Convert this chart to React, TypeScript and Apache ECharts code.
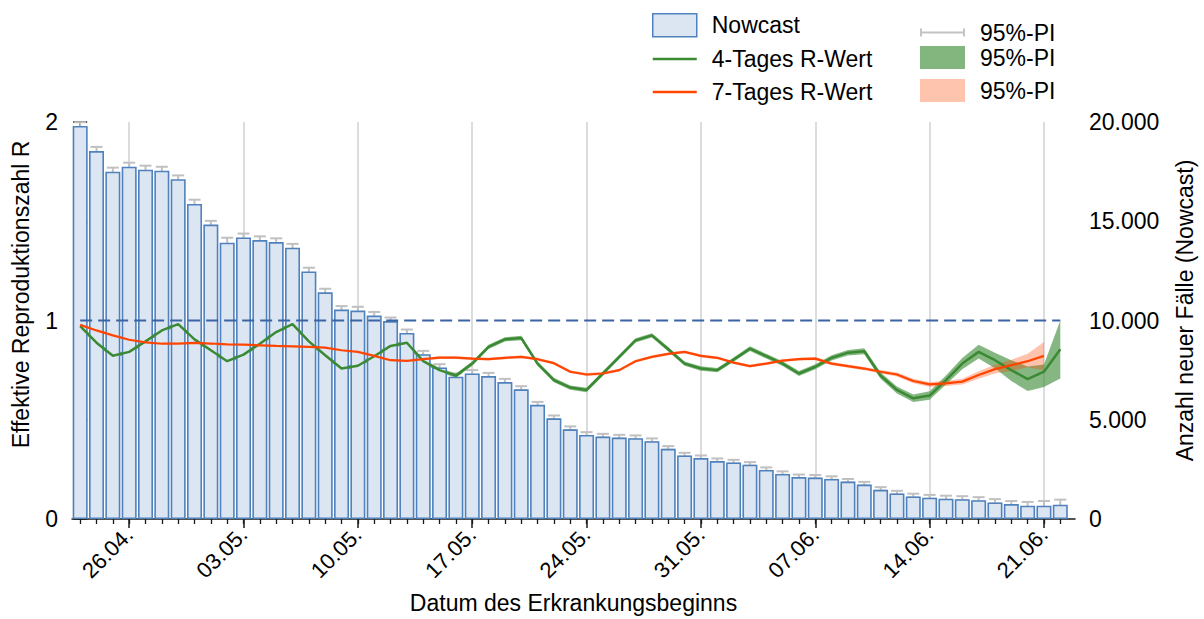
import React, { useEffect, useRef } from "react";
import * as echarts from "echarts";

// Day index 0 = 23.04., index 60 = 22.06.
const dayIndex = Array.from({ length: 61 }, (_, i) => i);
const tickPositions = [3, 10, 17, 24, 31, 38, 45, 52, 59];
const tickLabels = ["26.04.", "03.05.", "10.05.", "17.05.", "24.05.", "31.05.", "07.06.", "14.06.", "21.06."];

const nowcast = [
  19800, 18535, 17500, 17750, 17600, 17550, 17120, 15870, 14835, 13920,
  14185, 14050, 13950, 13670, 12470, 11420, 10550, 10500, 10250, 9970,
  9370, 8300, 7635, 7170, 7335, 7200, 6900, 6535, 5750, 5070,
  4520, 4235, 4150, 4100, 4070, 3920, 3535, 3200, 3070, 2920,
  2850, 2735, 2470, 2270, 2110, 2085, 2020, 1885, 1735, 1470,
  1285, 1135, 1070, 1020, 1000, 950, 835, 750, 670, 670, 720,
];
const nowcastLow = [
  19640, 18385, 17340, 17590, 17450, 17400, 16970, 15745, 14700, 13820,
  14060, 13925, 13830, 13550, 12360, 11320, 10460, 10410, 10160, 9880,
  9290, 8225, 7565, 7100, 7265, 7135, 6835, 6475, 5690, 5015,
  4470, 4185, 4100, 4050, 4020, 3870, 3490, 3155, 3025, 2875,
  2805, 2690, 2425, 2225, 2065, 2040, 1975, 1840, 1690, 1425,
  1240, 1090, 1020, 965, 945, 885, 780, 640, 585, 570, 540,
];
const nowcastHigh = [
  19990, 18745, 17700, 17950, 17800, 17745, 17310, 16085, 15020, 14170,
  14380, 14240, 14140, 13860, 12660, 11600, 10725, 10690, 10430, 10150,
  9545, 8470, 7800, 7330, 7500, 7360, 7060, 6690, 5900, 5215,
  4665, 4375, 4290, 4240, 4210, 4060, 3670, 3335, 3200, 3050,
  2980, 2865, 2600, 2400, 2240, 2215, 2150, 2015, 1870, 1605,
  1420, 1275, 1215, 1175, 1150, 1100, 1000, 905, 860, 905, 975,
];

const r4 = [
  0.972, 0.888, 0.822, 0.842, 0.895, 0.95, 0.982, 0.905, 0.85, 0.795,
  0.828, 0.883, 0.942, 0.982, 0.895, 0.825, 0.758, 0.772, 0.82, 0.872,
  0.888, 0.795, 0.75, 0.722, 0.783, 0.867, 0.905, 0.912, 0.783, 0.7,
  0.662, 0.65, 0.733, 0.817, 0.9, 0.925, 0.855, 0.783, 0.758, 0.75,
  0.803, 0.858, 0.82, 0.783, 0.733, 0.767, 0.812, 0.838, 0.845, 0.722,
  0.65, 0.608, 0.622, 0.7, 0.783, 0.842, 0.8, 0.75, 0.705, 0.742, 0.855,
];
const r4Low = [
  0.96, 0.877, 0.811, 0.831, 0.884, 0.939, 0.971, 0.894, 0.839, 0.784,
  0.817, 0.872, 0.931, 0.971, 0.884, 0.814, 0.747, 0.761, 0.809, 0.861,
  0.877, 0.784, 0.739, 0.711, 0.772, 0.856, 0.894, 0.901, 0.772, 0.689,
  0.651, 0.639, 0.722, 0.806, 0.889, 0.914, 0.844, 0.772, 0.747, 0.739,
  0.792, 0.846, 0.808, 0.771, 0.721, 0.754, 0.799, 0.824, 0.83, 0.706,
  0.632, 0.589, 0.601, 0.677, 0.755, 0.808, 0.76, 0.695, 0.645, 0.665, 0.708,
];
const r4High = [
  0.984, 0.899, 0.833, 0.853, 0.906, 0.961, 0.993, 0.916, 0.861, 0.806,
  0.839, 0.894, 0.953, 0.993, 0.906, 0.836, 0.769, 0.783, 0.831, 0.883,
  0.899, 0.806, 0.761, 0.733, 0.794, 0.878, 0.916, 0.923, 0.794, 0.711,
  0.673, 0.661, 0.744, 0.828, 0.911, 0.936, 0.866, 0.794, 0.769, 0.761,
  0.814, 0.87, 0.832, 0.795, 0.745, 0.78, 0.825, 0.852, 0.86, 0.738,
  0.668, 0.627, 0.643, 0.723, 0.811, 0.878, 0.838, 0.8, 0.768, 0.778, 1.0,
];

const r7 = [
  0.978, 0.95, 0.925, 0.903, 0.89, 0.883, 0.884, 0.887, 0.884, 0.88,
  0.878, 0.875, 0.872, 0.87, 0.867, 0.863, 0.85, 0.842, 0.822, 0.8,
  0.797, 0.805, 0.813, 0.813, 0.808, 0.805, 0.812, 0.817, 0.805, 0.785,
  0.742, 0.728, 0.733, 0.75, 0.795, 0.817, 0.832, 0.842, 0.822, 0.812,
  0.788, 0.77, 0.783, 0.798, 0.805, 0.808, 0.783, 0.77, 0.758, 0.742,
  0.728, 0.695, 0.678, 0.683, 0.692, 0.725, 0.755, 0.775, 0.795, 0.822,
];
const r7Low = [
  0.971, 0.943, 0.918, 0.896, 0.883, 0.876, 0.877, 0.88, 0.877, 0.873,
  0.871, 0.868, 0.865, 0.863, 0.86, 0.856, 0.843, 0.835, 0.815, 0.793,
  0.79, 0.798, 0.806, 0.806, 0.801, 0.798, 0.805, 0.81, 0.798, 0.778,
  0.735, 0.721, 0.726, 0.743, 0.788, 0.81, 0.825, 0.835, 0.815, 0.805,
  0.781, 0.763, 0.776, 0.791, 0.798, 0.8, 0.775, 0.762, 0.75, 0.733,
  0.718, 0.684, 0.666, 0.67, 0.678, 0.706, 0.733, 0.745, 0.765, 0.75,
];
const r7High = [
  0.985, 0.957, 0.932, 0.91, 0.897, 0.89, 0.891, 0.894, 0.891, 0.887,
  0.885, 0.882, 0.879, 0.877, 0.874, 0.87, 0.857, 0.849, 0.829, 0.807,
  0.804, 0.812, 0.82, 0.82, 0.815, 0.812, 0.819, 0.824, 0.812, 0.792,
  0.749, 0.735, 0.74, 0.757, 0.802, 0.824, 0.839, 0.849, 0.829, 0.819,
  0.795, 0.777, 0.79, 0.805, 0.812, 0.816, 0.791, 0.778, 0.766, 0.751,
  0.738, 0.706, 0.69, 0.696, 0.706, 0.744, 0.777, 0.802, 0.832, 0.892,
];

const referenceR = [
  [0, 1],
  [60, 1],
];

const FONT = "'Liberation Sans', Arial, Helvetica, sans-serif";
const AXIS_COLOR = "#1a1a1a";
const GREEN = "#3a8a33";
const ORANGE = "#ff4500";

function fmtThousands(v: number): string {
  return String(v).replace(/\B(?=(\d{3})+(?!\d))/g, ".");
}

function bandSeries(name: string, lo: number[], hi: number[], fill: string) {
  return {
    name,
    type: "custom",
    xAxisIndex: 0,
    yAxisIndex: 0,
    silent: true,
    encode: { x: 0, y: [1, 2] },
    data: lo.map((v, i) => [dayIndex[i], v, hi[i]]),
    renderItem: (params: any, api: any) => {
      if (params.dataIndex !== 0) return null;
      const upper = lo.map((_, i) => api.coord([dayIndex[i], hi[i]]));
      const lower = lo.map((_, i) => api.coord([dayIndex[i], lo[i]])).reverse();
      return {
        type: "polygon",
        shape: { points: upper.concat(lower) },
        style: { fill, stroke: "none" },
      };
    },
  };
}

const legendText = { fontSize: 23, color: "#000", fontFamily: FONT, padding: [0, 0, 0, 10], lineHeight: 23 };

export default function App() {
  const ref = useRef<HTMLDivElement>(null);

  useEffect(() => {
    if (!ref.current) return;
    const chart = echarts.init(ref.current, undefined, { renderer: "svg" });

    const option: any = {
      animation: false,
      textStyle: { fontFamily: FONT, color: "#000" },
      grid: { left: 72, right: 127, top: 122, bottom: 97, containLabel: false },
      legend: [
        {
          orient: "vertical",
          left: 652,
          top: 13,
          padding: 0,
          itemWidth: 44,
          itemHeight: 23,
          itemGap: 10,
          selectedMode: false,
          textStyle: legendText,
          data: [
            { name: "Nowcast", icon: "rect", itemStyle: { color: "#dce6f2", borderColor: "#4f81bd", borderWidth: 1.5 } },
            { name: "4-Tages R-Wert", icon: "path://M0,0H44V2.5H0Z", itemStyle: { color: GREEN, borderWidth: 0 } },
            { name: "7-Tages R-Wert", icon: "path://M0,0H44V2.5H0Z", itemStyle: { color: ORANGE, borderWidth: 0 } },
          ],
        },
        {
          orient: "vertical",
          left: 920,
          top: 21,
          padding: 0,
          itemWidth: 45,
          itemHeight: 8,
          selectedMode: false,
          formatter: () => "95%-PI",
          textStyle: legendText,
          data: [
            {
              name: "pi_err",
              icon: "path://M0,0H2V8H0Z M2,3H43V5H2Z M43,0H45V8H43Z",
              itemStyle: { color: "#c4c4c4", borderWidth: 0 },
            },
          ],
        },
        {
          orient: "vertical",
          left: 920,
          top: 46,
          padding: 0,
          itemWidth: 45,
          itemHeight: 23,
          itemGap: 10,
          selectedMode: false,
          formatter: () => "95%-PI",
          textStyle: legendText,
          data: [
            { name: "pi_4", icon: "rect", itemStyle: { color: "#83b57f", borderWidth: 0, opacity: 1 } },
            { name: "pi_7", icon: "rect", itemStyle: { color: "#ffc4ad", borderWidth: 0, opacity: 1 } },
          ],
        },
      ],
      xAxis: [
        {
          type: "value",
          min: -0.5,
          max: 60.9,
          position: "bottom",
          name: "Datum des Erkrankungsbeginns",
          nameLocation: "middle",
          nameGap: 72,
          nameTextStyle: { fontSize: 23, color: "#000", fontFamily: FONT },
          axisLine: { show: true, lineStyle: { color: AXIS_COLOR, width: 1.5 } },
          axisTick: { show: true, customValues: dayIndex, length: 5, lineStyle: { color: AXIS_COLOR, width: 1.3 } },
          axisLabel: { show: false },
          splitLine: { show: false },
        },
        {
          type: "value",
          min: -0.5,
          max: 60.9,
          position: "bottom",
          axisLine: { show: false },
          axisTick: { show: true, customValues: tickPositions, length: 9, lineStyle: { color: AXIS_COLOR, width: 1.5 } },
          axisLabel: {
            show: true,
            customValues: tickPositions,
            formatter: (v: number) => tickLabels[tickPositions.indexOf(Math.round(v))] || "",
            rotate: 45,
            margin: 12,
            fontSize: 22,
            color: "#000",
            fontFamily: FONT,
          },
          splitLine: { show: true, lineStyle: { color: "#dcdcdc", width: 2 } },
        },
      ],
      yAxis: [
        {
          type: "value",
          position: "left",
          min: 0,
          max: 2,
          interval: 1,
          name: "Effektive Reproduktionszahl R",
          nameLocation: "middle",
          nameRotate: 90,
          nameGap: 40,
          nameTextStyle: { fontSize: 23, color: "#000", fontFamily: FONT, padding: [0, 0, 0, 52] },
          axisLine: { show: true, lineStyle: { color: AXIS_COLOR, width: 1.5 } },
          axisTick: { show: true, length: 7, lineStyle: { color: AXIS_COLOR, width: 1.5 } },
          axisLabel: { fontSize: 23, color: "#000", margin: 14, fontFamily: FONT },
          splitLine: { show: false },
        },
        {
          type: "value",
          position: "right",
          min: 0,
          max: 20000,
          interval: 5000,
          name: "Anzahl neuer Fälle (Nowcast)",
          nameLocation: "middle",
          nameRotate: 90,
          nameGap: 98,
          nameTextStyle: { fontSize: 23, color: "#000", fontFamily: FONT, padding: [0, 0, 0, 20] },
          axisLine: { show: true, lineStyle: { color: AXIS_COLOR, width: 1.5 } },
          axisTick: { show: true, length: 7, lineStyle: { color: AXIS_COLOR, width: 1.5 } },
          axisLabel: { fontSize: 23, color: "#000", margin: 14, fontFamily: FONT, formatter: (v: number) => fmtThousands(v) },
          splitLine: { show: false },
        },
      ],
      series: [
        {
          name: "Nowcast",
          type: "bar",
          xAxisIndex: 0,
          yAxisIndex: 1,
          barWidth: 15,
          data: nowcast.map((v, i) => [dayIndex[i], v]),
          itemStyle: { color: "#dce6f2", borderColor: "#4f81bd", borderWidth: 1.6 },
        },
        {
          name: "pi_err",
          type: "custom",
          xAxisIndex: 0,
          yAxisIndex: 1,
          encode: { x: 0, y: [1, 2] },
          data: nowcastLow.map((v, i) => [dayIndex[i], v, nowcastHigh[i]]),
          renderItem: (params: any, api: any) => {
            const x = api.value(0);
            const lo = api.coord([x, api.value(1)]);
            const hi = api.coord([x, api.value(2)]);
            const hw = 6;
            const style = { stroke: "#c0c0c0", lineWidth: 2, fill: "none" };
            return {
              type: "group",
              children: [
                { type: "line", shape: { x1: lo[0], y1: lo[1], x2: hi[0], y2: hi[1] }, style },
                { type: "line", shape: { x1: lo[0] - hw, y1: lo[1], x2: lo[0] + hw, y2: lo[1] }, style },
                { type: "line", shape: { x1: hi[0] - hw, y1: hi[1], x2: hi[0] + hw, y2: hi[1] }, style },
              ],
            };
          },
        },
        {
          name: "ref",
          type: "line",
          xAxisIndex: 0,
          yAxisIndex: 0,
          data: referenceR,
          symbol: "none",
          silent: true,
          lineStyle: { color: "#3a64a3", width: 2, type: [12, 6] },
        },
        bandSeries("pi_4", r4Low, r4High, "rgba(60,138,53,0.62)"),
        {
          name: "4-Tages R-Wert",
          type: "line",
          xAxisIndex: 0,
          yAxisIndex: 0,
          color: GREEN,
          data: r4.map((v, i) => [dayIndex[i], v]),
          symbol: "none",
          lineStyle: { color: GREEN, width: 2.5 },
        },
        bandSeries("pi_7", r7Low, r7High, "rgba(255,69,0,0.32)"),
        {
          name: "7-Tages R-Wert",
          type: "line",
          xAxisIndex: 0,
          yAxisIndex: 0,
          color: ORANGE,
          data: r7.map((v, i) => [dayIndex[i], v]),
          symbol: "none",
          lineStyle: { color: ORANGE, width: 2.2 },
        },
      ],
    };

    chart.setOption(option);
    return () => {
      chart.dispose();
    };
  }, []);

  return (
    <div
      ref={ref}
      style={{ position: "fixed", left: 0, top: 0, width: 1204, height: 619, background: "#fff" }}
    />
  );
}
